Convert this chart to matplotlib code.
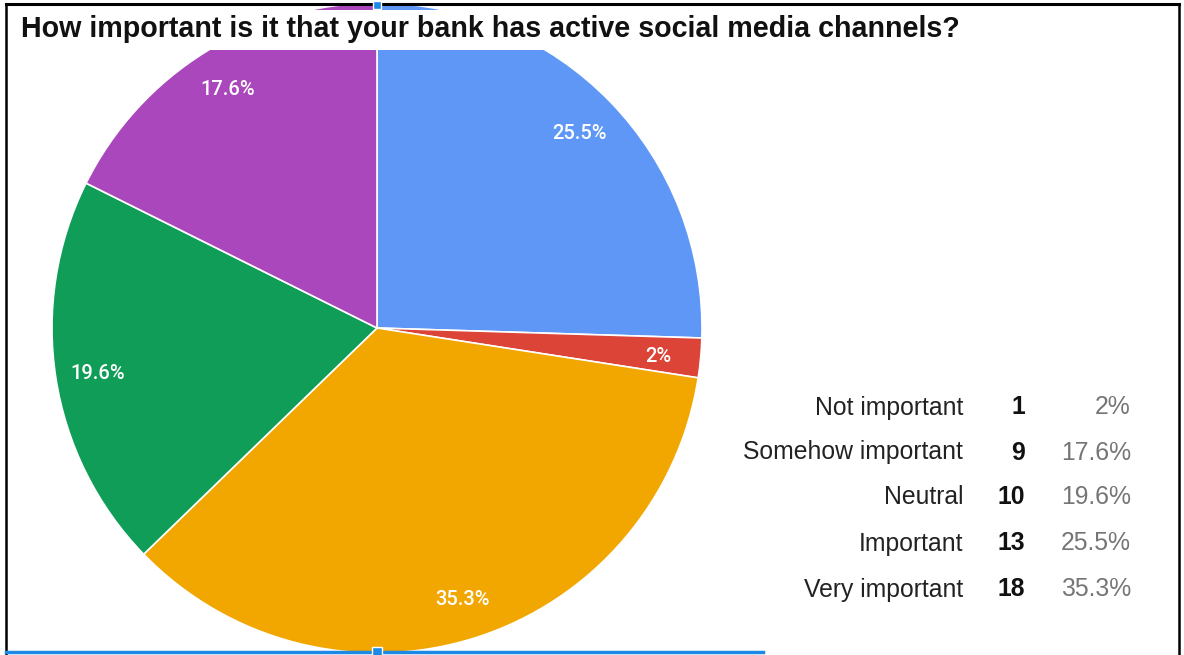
import matplotlib.pyplot as plt
from matplotlib.patches import Rectangle

# answers to the survey question
categories = ["Not important", "Somehow important", "Neutral", "Important", "Very important"]
counts = [1, 9, 10, 13, 18]
colors = ["#db4437", "#ab47bc", "#109d58", "#5e97f6", "#f2a600"]

# slice order going clockwise from 12 o'clock
pie_order = ["Important", "Not important", "Very important", "Neutral", "Somehow important"]

title = "How important is it that your bank has active social media channels?"

W, H = 1184, 655


def fmt_pct(p):
    return f"{p:.1f}".rstrip("0").rstrip(".") + "%"


total = sum(counts)
vals = [counts[categories.index(c)] for c in pie_order]
cols = [colors[categories.index(c)] for c in pie_order]

fig = plt.figure(figsize=(W / 100, H / 100), dpi=100)
ax = fig.add_axes([0, 0, 1, 1])

wedges, texts, autotexts = ax.pie(
    vals, colors=cols, startangle=90, counterclock=False,
    center=(377, H - 328), radius=325, autopct=fmt_pct, pctdistance=0.87,
    wedgeprops=dict(edgecolor="white", linewidth=1.2),
    textprops=dict(color="white", fontsize=14.5, fontweight="medium",
                   family=["Roboto", "DejaVu Sans"]),
)
for t in autotexts:
    t.set_va("center_baseline")

ax.set_xlim(0, W)
ax.set_ylim(0, H)
ax.set_aspect("equal")
ax.axis("off")

# white band behind the title hides the top of the pie
ax.add_patch(Rectangle((8, H - 50), W - 16, 40, facecolor="white", edgecolor="none", zorder=5))
ax.text(21, H - 29, title, fontsize=20.6, fontweight="bold", va="center", ha="left",
        family=["Liberation Sans", "DejaVu Sans"], color="#111111", zorder=6)

# table of counts and percentages
fam = ["Liberation Sans", "DejaVu Sans"]
row_y = [405, 450, 495, 541, 587]
for i, (cat, n) in enumerate(zip(categories, counts)):
    y = H - row_y[i]
    ax.text(963, y, cat, ha="right", va="center_baseline", fontsize=17.8, color="#222222",
            family=fam)
    ax.text(1025, y, str(n), ha="right", va="center_baseline", fontsize=17.8,
            fontweight="bold", color="#111111", family=fam)
    ax.text(1131, y, fmt_pct(100 * n / total), ha="right", va="center_baseline",
            fontsize=17.8, color="#757575", family=fam)

# screenshot frame and selection line
ax.plot([6, 6], [0, H - 4], color="black", lw=1.8, zorder=7)
ax.plot([6, 1179], [H - 4, H - 4], color="black", lw=2.2, zorder=7)
ax.plot([1179, 1179], [0, H - 4], color="black", lw=1.8, zorder=7)
ax.plot([6, 763], [H - 652, H - 652], color="#1e88e5", lw=2.5, zorder=7)
ax.plot([377], [H - 652], marker="s", ms=7, color="#1e88e5", mec="white", mew=1, zorder=8)
ax.plot([377], [H - 5], marker="s", ms=6, color="#1e88e5", mec="white", mew=1, zorder=8)

fig.savefig("out.png", dpi=100)
